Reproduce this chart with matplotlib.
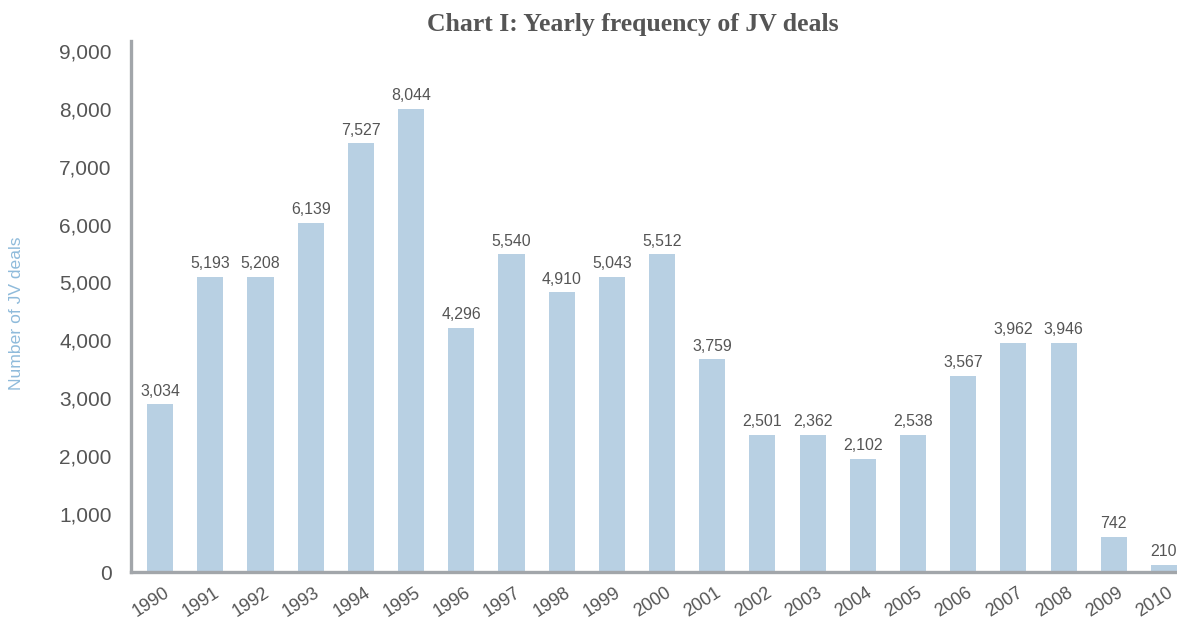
import matplotlib
matplotlib.use("Agg")
import matplotlib.pyplot as plt
import matplotlib.transforms as mtransforms
from matplotlib.ticker import FuncFormatter

years = ["1990", "1991", "1992", "1993", "1994", "1995", "1996", "1997", "1998", "1999", "2000",
         "2001", "2002", "2003", "2004", "2005", "2006", "2007", "2008", "2009", "2010"]
# value labels printed on the chart
label_values = [3034, 5193, 5208, 6139, 7527, 8044, 4296, 5540, 4910, 5043, 5512,
                3759, 2501, 2362, 2102, 2538, 3567, 3962, 3946, 742, 210]
# bar heights as drawn in the picture
bar_heights = [2900, 5100, 5100, 6030, 7400, 8000, 4220, 5490, 4830, 5100, 5490,
               3670, 2370, 2370, 1960, 2370, 3390, 3960, 3960, 610, 120]
yticks = [0, 1000, 2000, 3000, 4000, 5000, 6000, 7000, 8000, 9000]

W, H = 1177, 619
fig = plt.figure(figsize=(W / 100, H / 100), dpi=100)
left, right = 131 / W, 1.0
bottom, top = (H - 572) / H, (H - 41) / H
ax = fig.add_axes([left, bottom, right - left, top - bottom])

bar_color = "#b8d0e3"
text_color = "#555555"
axis_color = "#a2a6aa"
sans = ["Liberation Sans", "DejaVu Sans"]

x = list(range(len(years)))
ax.bar(x, bar_heights, width=0.52, color=bar_color, zorder=2)

for xi, h, lab in zip(x, bar_heights, label_values):
    ax.annotate(f"{lab:,}", (xi, h), xytext=(0, 4), textcoords="offset points",
                ha="center", va="bottom", fontsize=11.4, color=text_color, family=sans)

ax.set_xlim(-0.58, 20.26)
ax.set_ylim(0, 9170)
ax.set_yticks(yticks)
ax.yaxis.set_major_formatter(FuncFormatter(lambda v, p: f"{int(v):,}"))
ax.tick_params(axis="y", length=0, pad=14, labelsize=15, labelcolor=text_color)
for t in ax.get_yticklabels():
    t.set_family(sans)

ax.set_xticks(x)
ax.set_xticklabels(years, rotation=33, ha="right", rotation_mode="anchor",
                   fontsize=13, color=text_color, family=sans)
ax.tick_params(axis="x", length=0, pad=9)
offset = mtransforms.ScaledTranslation(3 / 100, 0, fig.dpi_scale_trans)
for t in ax.get_xticklabels():
    t.set_transform(t.get_transform() + offset)

for s in ["top", "right"]:
    ax.spines[s].set_visible(False)
for s in ["left", "bottom"]:
    ax.spines[s].set_color(axis_color)
    ax.spines[s].set_linewidth(2.4)
    ax.spines[s].set_zorder(3)

fig.text(17 / W, (H - 313) / H, "Number of JV deals", rotation=90, ha="center", va="center",
         fontsize=12.6, color="#8fbbdb", family=sans)

fig.text(633 / W, (H - 24) / H, "Chart I: Yearly frequency of JV deals", ha="center", va="center",
         fontsize=18.5, fontweight="bold", color="#555555", family=["Liberation Serif", "DejaVu Serif"])

fig.savefig("out.png", dpi=100)
